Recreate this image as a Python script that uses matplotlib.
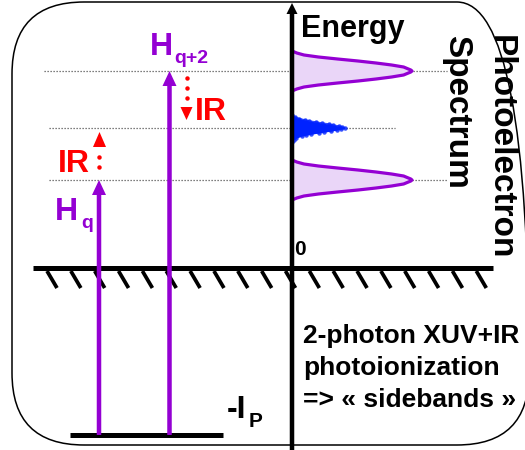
import numpy as np
import matplotlib.pyplot as plt
from matplotlib.patches import FancyBboxPatch

plt.rcParams['font.family'] = ['Liberation Sans', 'DejaVu Sans']
plt.rcParams['font.weight'] = 'bold'

# energies (0 = ionization threshold), same units as the drawing
E_ground = -167          # -Ip
E_harm = [88, 197]       # H_q , H_q+2
E_side = [140]           # sideband
E_ir_up = [101, 111]     # IR dots (absorption)
E_ir_down = [190, 180, 170]

# photoelectron peaks: offsets from line centre and relative intensity
harm_de = [-20, -18, -16, -14, -12, -10, -8, -6, -4, -2, -1, 0,
           1, 2, 4, 6, 8, 10, 12, 14, 16, 18, 20]
harm_int = [0.0, 0.04, 0.10, 0.22, 0.38, 0.55, 0.70, 0.83, 0.93, 0.97, 0.99, 1.0,
            0.99, 0.97, 0.93, 0.83, 0.70, 0.55, 0.38, 0.22, 0.10, 0.04, 0.0]
harm_amp = 120

sb_de = [13, 11, 9.5, 8, 7, 6, 5, 4, 3, 2, 1, 0, -1, -2, -3, -4, -5, -6, -7, -8, -10, -12, -14]
sb_int = [0.0, 0.06, 0.14, 0.25, 0.33, 0.46, 0.56, 0.70, 0.78, 0.88, 0.95, 1.0,
          0.93, 0.84, 0.74, 0.60, 0.50, 0.36, 0.27, 0.18, 0.08, 0.03, 0.0]
sb_amp = 53

purple = '#9400d3'
lilac = '#ead6f8'
red = '#ff0000'
blue = '#0022ff'

fig = plt.figure(figsize=(5.25, 4.5), dpi=100)
ax = fig.add_axes([0, 0, 1, 1])
ax.set_xlim(0, 525)
ax.set_ylim(-182, 268)
ax.axis('off')

# rounded frame
box = FancyBboxPatch((12, -177), 517, 443, boxstyle='round,pad=0,rounding_size=72',
                     fc='none', ec='black', lw=1.1, zorder=1)
ax.add_patch(box)

x_axis = 292

# dotted level lines
ax.hlines([E_harm[1], E_harm[0]], [44, 49], [447, 447], colors='#555555', lw=0.9,
          linestyles=[(0, (1, 1.4))], zorder=2)
ax.hlines(E_side, [49], [395], colors='#555555', lw=0.9, linestyles=[(0, (1, 1.4))], zorder=2)

# threshold + hatching
ax.plot([33, 493], [0, 0], color='black', lw=3.6, solid_capstyle='butt', zorder=3)
for hx in np.arange(47, 480, 23.85):
    ax.plot([hx, hx + 10], [-3, -20], color='black', lw=2.7, solid_capstyle='butt', zorder=3)

# ground state
ax.plot([70, 223], [E_ground, E_ground], color='black', lw=3.6, solid_capstyle='butt', zorder=3)

# energy axis
ax.arrow(x_axis, -182, 0, 447, width=4.5, head_width=11, head_length=11,
         length_includes_head=True, color='black', lw=0, zorder=6)

# harmonic photon arrows
for hx, e in zip([99, 169.5], E_harm):
    ax.arrow(hx, E_ground, 0, e - E_ground, width=4.5, head_width=14, head_length=15,
             length_includes_head=True, color=purple, lw=0, zorder=5)

# IR arrows (dotted)
ax.plot([99] * len(E_ir_up), E_ir_up, 'o', color=red, ms=3.2, mew=0, zorder=5)
ax.arrow(99.5, 121, 0, 15, width=0.01, head_width=13, head_length=15,
         length_includes_head=True, color=red, lw=0, zorder=5)
ax.plot([187] * len(E_ir_down), E_ir_down, 'o', color=red, ms=3.2, mew=0, zorder=5)
ax.arrow(186.5, 161, 0, -13, width=0.01, head_width=12, head_length=13,
         length_includes_head=True, color=red, lw=0, zorder=5)

# photoelectron spectrum
for e in E_harm:
    yy = e + np.array(harm_de)
    xx = x_axis + harm_amp * np.array(harm_int)
    ax.fill_betweenx(yy, x_axis, xx, color=lilac, lw=0, zorder=4)
    ax.plot(xx, yy, color=purple, lw=2.3, zorder=4)

for e in E_side:
    yy = e + np.array(sb_de)
    xx = x_axis + sb_amp * np.array(sb_int)
    ax.fill_betweenx(yy, x_axis, xx, color=blue, lw=0, zorder=4)
    ax.plot(xx, yy, 'o-', color=blue, lw=1, ms=3.2, mew=0, alpha=0.8, zorder=4)

# texts
ax.text(301, 231, 'Energy', fontsize=22, ha='left', va='baseline')
ax.text(294, 13, '0', fontsize=15, ha='left', va='baseline')
ax.text(150, 213, 'H', fontsize=23, color=purple, ha='left', va='baseline')
ax.text(174, 205, 'q+2', fontsize=14, color=purple, ha='left', va='baseline')
ax.text(55, 48, 'H', fontsize=23, color=purple, ha='left', va='baseline')
ax.text(81, 40, 'q', fontsize=14, color=purple, ha='left', va='baseline')
ax.text(195, 148, 'IR', fontsize=23, color=red, ha='left', va='baseline')
ax.text(58, 96, 'IR', fontsize=23, color=red, ha='left', va='baseline')
ax.text(227, -150, '-I', fontsize=23, ha='left', va='baseline')
ax.text(249, -159, 'P', fontsize=15, ha='left', va='baseline')

ax.text(492, 233, 'Photoelectron', fontsize=24, rotation=270, rotation_mode='anchor',
        ha='left', va='baseline')
ax.text(448, 233, 'Spectrum', fontsize=24, rotation=270, rotation_mode='anchor',
        ha='left', va='baseline')

ax.text(303, -75, '2-photon XUV+IR', fontsize=19, ha='left', va='baseline')
ax.text(303, -107, 'photoionization', fontsize=19, ha='left', va='baseline')
ax.text(303, -139, '=> « sidebands »', fontsize=19, ha='left', va='baseline')

fig.savefig('out.png', dpi=100)
